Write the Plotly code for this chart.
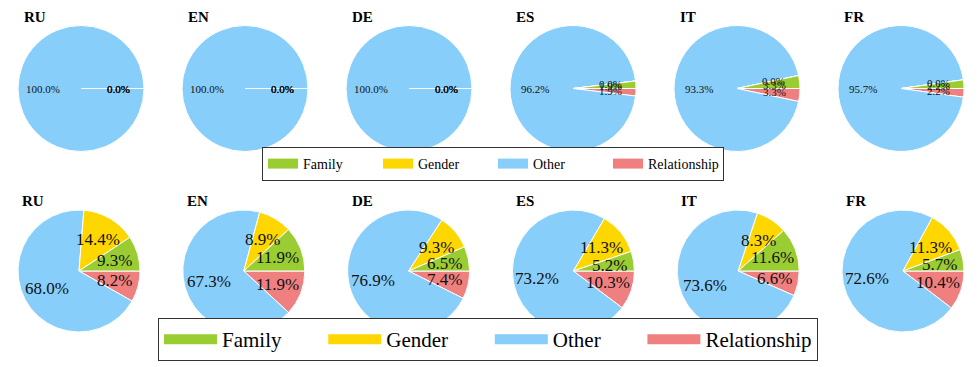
import math
import plotly.graph_objects as go

# ---------------- data ----------------
languages = ["RU", "EN", "DE", "ES", "IT", "FR"]
categories = ["Family", "Gender", "Other", "Relationship"]
colors = ["#9ACD32", "#FFD700", "#87CEFA", "#F08080"]

top_family = [0.0, 0.0, 0.0, 1.9, 3.3, 2.2]
top_gender = [0.0, 0.0, 0.0, 0.0, 0.0, 0.0]
top_other = [100.0, 100.0, 100.0, 96.2, 93.3, 95.7]
top_relationship = [0.0, 0.0, 0.0, 1.9, 3.3, 2.2]

bottom_family = [9.3, 11.9, 6.5, 5.2, 11.6, 5.7]
bottom_gender = [14.4, 8.9, 9.3, 11.3, 8.3, 11.3]
bottom_other = [68.0, 67.3, 76.9, 73.2, 73.6, 72.6]
bottom_relationship = [8.2, 11.9, 7.4, 10.3, 6.6, 10.4]

# ---------------- layout geometry (pixels) ----------------
W, H = 980, 367
FONT = "Liberation Serif"
NBSP = "\u00a0"

rows = [
    dict(vals=[top_family, top_gender, top_other, top_relationship],
         cx0=81, step=164, cy=88.5, R=63, title_y=17.5, label_size=11),
    dict(vals=[bottom_family, bottom_gender, bottom_other, bottom_relationship],
         cx0=79, step=164.8, cy=271, R=61, title_y=201, label_size=17),
]

fig = go.Figure()
annotations = []

for row in rows:
    for i, lang in enumerate(languages):
        values = [series[i] for series in row["vals"]]
        cx = row["cx0"] + i * row["step"]
        cy = row["cy"]
        R = row["R"]
        # slices go counter-clockwise from 3 o'clock (Family first): drawn
        # clockwise in reversed order so that Family ends at 3 o'clock.
        fig.add_trace(go.Pie(
            values=values[::-1],
            labels=categories[::-1],
            marker=dict(colors=colors[::-1], line=dict(color="white", width=1)),
            sort=False,
            direction="clockwise",
            rotation=90,
            textinfo="none",
            hoverinfo="label+percent",
            showlegend=False,
            domain=dict(x=[(cx - R) / W, (cx + R) / W],
                        y=[1 - (cy + R) / H, 1 - (cy - R) / H]),
        ))
        # title
        annotations.append(dict(
            text="<b>%s</b>" % lang, x=(cx - 59) / W, y=1 - row["title_y"] / H,
            xref="paper", yref="paper", xanchor="left", yanchor="middle",
            showarrow=False, font=dict(family=FONT, size=15, color="black")))
        # percentage labels (matplotlib autopct style, at 0.6 radius)
        total = sum(values)
        start = 0.0
        for v in values:
            theta = math.radians((start + v / 2) / total * 360)
            start += v
            lx = cx + 0.6 * R * math.cos(theta)
            ly = cy - 0.6 * R * math.sin(theta)
            annotations.append(dict(
                text="%.1f%%" % v, x=lx / W, y=1 - ly / H,
                xref="paper", yref="paper", xanchor="center", yanchor="middle",
                showarrow=False,
                font=dict(family=FONT, size=row["label_size"], color="#111111")))

# legend entries
for cat, col in zip(categories, colors):
    fig.add_trace(go.Scatter(x=[None], y=[None], mode="lines", name=cat,
                             line=dict(color=col, width=10), legend="legend",
                             hoverinfo="skip"))
for k, (cat, col) in enumerate(zip(categories, colors)):
    pad = NBSP * 7 if k < len(categories) - 1 else ""
    fig.add_trace(go.Scatter(x=[None], y=[None], mode="lines", name=cat + pad,
                             line=dict(color=col, width=16), legend="legend2",
                             hoverinfo="skip"))

fig.update_layout(
    width=W, height=H,
    margin=dict(l=0, r=0, t=0, b=0),
    paper_bgcolor="white", plot_bgcolor="white",
    xaxis=dict(visible=False), yaxis=dict(visible=False),
    annotations=annotations,
    legend=dict(orientation="h", x=262 / W, y=1 - 147 / H,
                xanchor="left", yanchor="top",
                bordercolor="#333333", borderwidth=1, bgcolor="white",
                entrywidth=70, entrywidthmode="pixels",
                font=dict(family=FONT, size=14, color="black")),
    legend2=dict(orientation="h", x=158 / W, y=1 - 318 / H,
                 xanchor="left", yanchor="top",
                 bordercolor="#333333", borderwidth=1, bgcolor="white",
                 itemwidth=53,
                 font=dict(family=FONT, size=21, color="black")),
)

fig.write_html("out.html", config={"displayModeBar": False},
               post_script="document.body.style.margin='0';")
